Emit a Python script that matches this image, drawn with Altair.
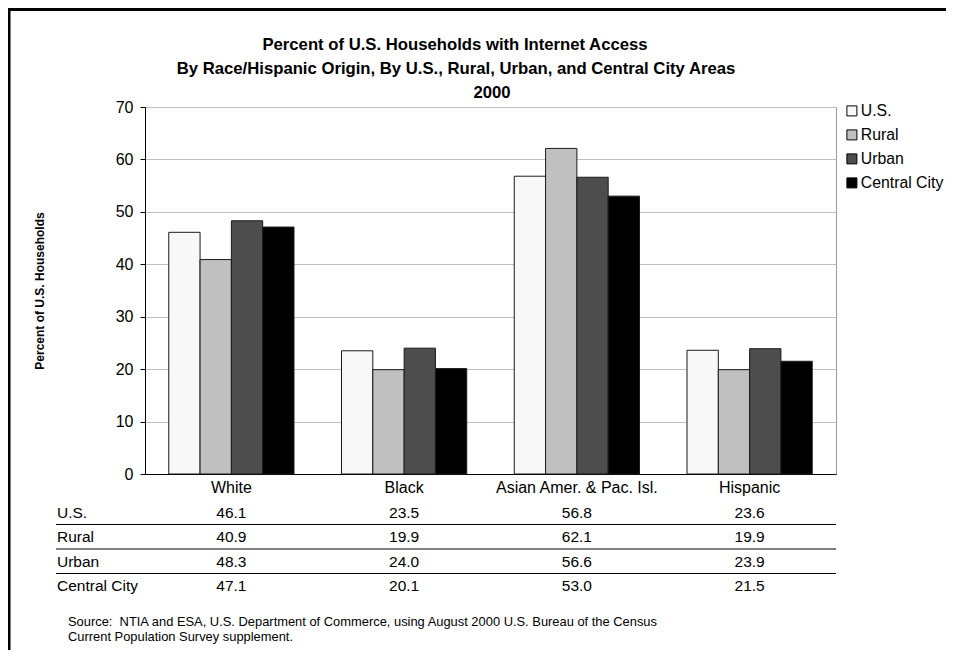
import altair as alt
import pandas as pd

groups = ["White", "Black", "Asian Amer. & Pac. Isl.", "Hispanic"]
areas = ["U.S.", "Rural", "Urban", "Central City"]
us_vals = [46.1, 23.5, 56.8, 23.6]
rural_vals = [40.9, 19.9, 62.1, 19.9]
urban_vals = [48.3, 24.0, 56.6, 23.9]
central_vals = [47.1, 20.1, 53.0, 21.5]
colors = ["#f8f8f8", "#c0c0c0", "#4d4d4d", "#000000"]
y_ticks = [0, 10, 20, 30, 40, 50, 60, 70]
title_lines = [
    "Percent of U.S. Households with Internet Access",
    "By Race/Hispanic Origin, By U.S., Rural, Urban, and Central City Areas",
    "2000",
]
y_title = "Percent of U.S. Households"
source_lines = [
    "Source:\u00a0 NTIA and ESA, U.S. Department of Commerce, using August 2000 U.S. Bureau of the Census",
    "Current Population Survey supplement.",
]

FONT = "Liberation Sans"
W, H = 691, 367

rows = []
for area, vals in zip(areas, [us_vals, rural_vals, urban_vals, central_vals]):
    for g, v in zip(groups, vals):
        rows.append({"group": g, "area": area, "value": v, "label": f"{v:.1f}"})
df = pd.DataFrame(rows)
one = pd.DataFrame({"k": [0]})

x_enc = alt.X(
    "group:N",
    sort=groups,
    scale=alt.Scale(paddingInner=0.275, paddingOuter=0.1375),
    axis=alt.Axis(
        title=None, labelAngle=0, labelFontSize=16, ticks=False, tickSize=0,
        labelPadding=5, domainColor="#000000", grid=False, labelColor="#000000",
    ),
)

bars = alt.Chart(df).mark_bar(stroke="#1a1a1a", strokeWidth=1).encode(
    x=x_enc,
    xOffset=alt.XOffset("area:N", sort=areas, scale=alt.Scale(paddingInner=0, paddingOuter=0)),
    y=alt.Y(
        "value:Q",
        scale=alt.Scale(domain=[0, 70], nice=False),
        axis=alt.Axis(
            title=None, values=y_ticks, labelFontSize=16, tickSize=5, labelPadding=7,
            domainColor="#000000", tickColor="#000000", gridColor="#c0c0c0",
            labelColor="#000000",
        ),
    ),
    fill=alt.Fill(
        "area:N",
        sort=areas,
        scale=alt.Scale(domain=areas, range=colors),
        legend=alt.Legend(
            title=None, orient="none", legendX=699, legendY=-4, symbolType="square",
            symbolSize=100, symbolStrokeColor="#000000", symbolStrokeWidth=1,
            labelFontSize=15.8, rowPadding=7.0, labelOffset=1, labelColor="#000000",
            labelFont=FONT, padding=0,
        ),
    ),
)

row_scale = alt.Scale(type="point", domain=areas, range=[405.5, 479], padding=0)

table_vals = alt.Chart(df).mark_text(fontSize=15.5, baseline="middle", color="#000000").encode(
    x=x_enc,
    y=alt.Y("area:N", scale=row_scale, axis=None),
    text="label:N",
)

row_df = pd.DataFrame({"area": areas})
table_rows = alt.Chart(row_df).mark_text(
    fontSize=15.5, baseline="middle", align="left", color="#000000"
).encode(
    x=alt.value(-88),
    y=alt.Y("area:N", scale=row_scale, axis=None),
    text="area:N",
)

sep_df = pd.DataFrame({"area": areas[:-1]})
table_lines = alt.Chart(sep_df).mark_rule(color="#000000", strokeWidth=1, yOffset=12).encode(
    x=alt.value(-89),
    x2=alt.value(W),
    y=alt.Y("area:N", scale=row_scale, axis=None),
)

def text_layer(txt, x, y, **kw):
    return alt.Chart(one).mark_text(color="#000000", **kw).encode(
        x=alt.value(x), y=alt.value(y), text=alt.value(txt)
    )

t1 = text_layer(title_lines[0], 310, -62, fontSize=16.7, fontWeight="bold", baseline="middle")
t2 = text_layer(title_lines[1], 311, -38, fontSize=16.7, fontWeight="bold", baseline="middle")
t3 = text_layer(title_lines[2], 347, -14, fontSize=16.7, fontWeight="bold", baseline="middle")
ytitle = text_layer(y_title, -105, 184, fontSize=12, fontWeight="bold", baseline="middle", angle=270)
s1 = text_layer(source_lines[0], -77, 515, fontSize=12.9, baseline="middle", align="left")
s2 = text_layer(source_lines[1], -77, 530, fontSize=12.9, baseline="middle", align="left")

frame_left = alt.Chart(one).mark_rule(color="#000000", strokeWidth=3).encode(
    x=alt.value(-136), y=alt.value(-99), y2=alt.value(543)
)
frame_top = alt.Chart(one).mark_rule(color="#000000", strokeWidth=3).encode(
    x=alt.value(-137.5), x2=alt.value(801), y=alt.value(-97.5)
)

chart = alt.layer(
    bars, table_vals, table_rows, table_lines, t1, t2, t3, ytitle, s1, s2, frame_left, frame_top
).resolve_scale(y="independent").properties(
    width=W,
    height=H,
    autosize=alt.AutoSizeParams(type="none"),
    padding={"left": 137, "top": 99, "right": 110, "bottom": 176},
).configure(
    font=FONT,
).configure_view(
    stroke="#999999", strokeWidth=1,
).configure_axis(
    labelFont=FONT,
)

chart.save("out.html", embed_options={"renderer": "svg", "actions": False})
